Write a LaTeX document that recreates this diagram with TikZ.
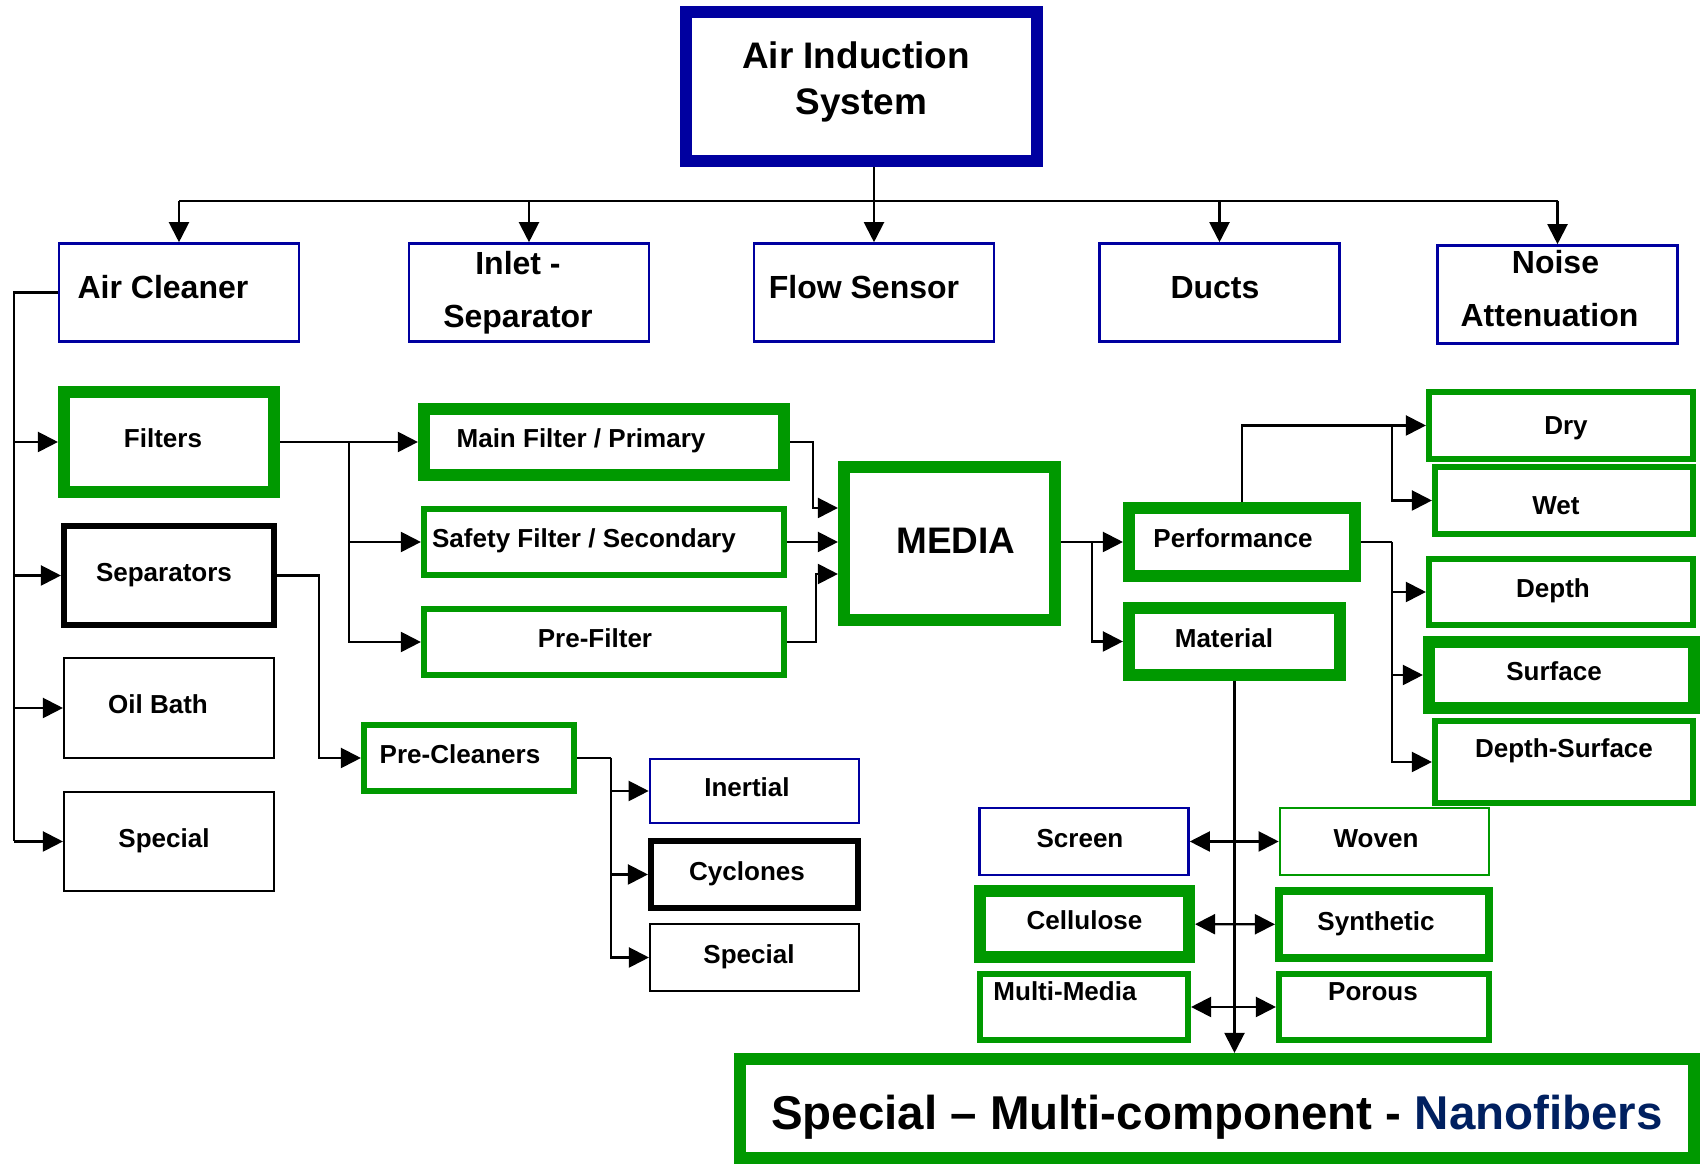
\documentclass[tikz,border=0pt]{standalone}
\usepackage{fontspec}
\setmainfont{Liberation Sans}
\usepackage{tikz}
\usetikzlibrary{arrows.meta,calc,positioning}
\definecolor{boxgreen}{RGB}{0,153,0}
\definecolor{boxblue}{RGB}{0,0,160}
\definecolor{navytext}{RGB}{0,32,96}
\tikzset{
  blk/.style={draw,rectangle,inner sep=0pt,font=\bfseries\fontsize{7.4}{9}\selectfont,
              text height=5.3pt,text depth=2pt},
  multi/.style={align=center,text height=,text depth=},
  gthick/.style={blk,draw=boxgreen,line width=0.12cm},
  gmed/.style={blk,draw=boxgreen,line width=0.06cm},
  gthin/.style={blk,draw=boxgreen,line width=0.025cm},
  kmed/.style={blk,draw=black,line width=0.06cm},
  kthin/.style={blk,draw=black,line width=0.02cm},
  bthin/.style={blk,draw=boxblue,line width=0.025cm},
  upper/.style={bthin,minimum width=2.40cm,minimum height=0.98cm,
                font=\bfseries\fontsize{9.1}{15}\selectfont,text height=6.5pt,text depth=2.8pt},
  link/.style={-{Triangle[length=0.2cm,width=0.2cm]}},
  dlink/.style={{Triangle[length=0.2cm,width=0.2cm]}-{Triangle[length=0.2cm,width=0.2cm]}}
}

\begin{document}
\begin{tikzpicture}[x=0.01cm,y=-0.01cm,line width=0.6pt]
  \useasboundingbox (0,0) rectangle (1702,1165);

  % top level
  \node[blk,multi,draw=boxblue,line width=0.12cm,minimum width=3.51cm,minimum height=1.49cm,
        font=\bfseries\fontsize{10.5}{13.1}\selectfont] (ais) at (861.5,86.5)
        {Air Induction\kern0.11cm\\System\\[-8.6pt]\mbox{}};
  \node[upper] (aircl) at (179,292.5)    {Air Cleaner\kern0.32cm};
  \node[upper,multi] (inlet) at (529,292.5) {Inlet -\kern0.22cm\\Separator\kern0.22cm};
  \node[upper] (flow)  at (874,292.5)    {Flow Sensor\kern0.20cm};
  \node[upper] (ducts) at (1219.5,292.5) {Ducts\kern0.09cm};
  \node[upper,multi] (noise) at (1557.5,294.5) {Noise\kern0.04cm\\Attenuation\kern0.16cm\\[-11.6pt]\mbox{}};

  % air cleaner parts
  \node[gthick,minimum width=2.10cm,minimum height=1.00cm] (filters) at (169,442)   {Filters\kern0.12cm};
  \node[kmed,minimum width=2.10cm,minimum height=0.99cm]   (seps)    at (169,575.5) {Separators\kern0.10cm};
  \node[kthin,minimum width=2.10cm,minimum height=1.00cm]  (oil)     at (169,708)   {Oil Bath\kern0.22cm};
  \node[kthin,minimum width=2.10cm,minimum height=0.99cm]  (spec1)   at (169,841.5) {Special\kern0.10cm};

  \node[gthick,minimum width=3.60cm,minimum height=0.66cm] (mainf)  at (604,442) {Main Filter / Primary\kern0.46cm};
  \node[gmed,minimum width=3.60cm,minimum height=0.66cm]   (safety) at (604,542) {Safety Filter / Secondary\kern0.40cm};
  \node[gmed,minimum width=3.60cm,minimum height=0.66cm]   (pref)   at (604,642) {Pre-Filter\kern0.18cm};
  \node[gmed,minimum width=2.10cm,minimum height=0.66cm]   (precl)  at (469,758) {Pre-Cleaners\kern0.18cm};
  \node[bthin,minimum width=2.09cm,minimum height=0.64cm]  (inert)  at (754.5,791)   {Inertial\kern0.15cm};
  \node[kmed,minimum width=2.07cm,minimum height=0.67cm]   (cyc)    at (754.5,874.5) {Cyclones\kern0.15cm};
  \node[kthin,minimum width=2.09cm,minimum height=0.67cm]  (spec2)  at (754.5,957.5) {Special\kern0.11cm};

  % media
  \node[gthick,minimum width=2.11cm,minimum height=1.53cm,font=\bfseries\fontsize{10.5}{13}\selectfont,
        text height=7.5pt,text depth=1.6pt] (media) at (949.5,543.5) {\kern0.13cm MEDIA};
  \node[gthick,minimum width=2.26cm,minimum height=0.68cm] (perf) at (1242,542)     {Performance\kern0.18cm};
  \node[gthick,minimum width=2.11cm,minimum height=0.67cm] (mat)  at (1234.5,641.5) {Material\kern0.21cm};

  \node[gmed,minimum width=2.64cm,minimum height=0.67cm,text height=5.3pt,text depth=0pt] (dry) at (1561,425.5) {\kern0.10cm Dry};
  \node[gmed,minimum width=2.58cm,minimum height=0.67cm,text height=7.7pt,text depth=0pt] (wet) at (1564,500.5) {Wet\kern0.16cm};
  \node[gmed,minimum width=2.64cm,minimum height=0.66cm]   (depth) at (1561,592)   {Depth\kern0.16cm};
  \node[gthick,minimum width=2.65cm,minimum height=0.66cm] (surf)  at (1561.5,675) {Surface\kern0.15cm};
  \node[gmed,multi,minimum width=2.58cm,minimum height=0.82cm] (dsurf) at (1564,762) {Depth-Surface\\[-1pt]\mbox{}};

  \node[bthin,minimum width=2.09cm,minimum height=0.67cm]  (screen) at (1084,841.5)   {Screen\kern0.08cm};
  \node[gthin,minimum width=2.09cm,minimum height=0.67cm]  (woven)  at (1384.5,841.5) {Woven\kern0.17cm};
  \node[gthick,minimum width=2.09cm,minimum height=0.66cm] (cell)   at (1084.5,924)   {Cellulose};
  \node[gmed,line width=0.08cm,minimum width=2.10cm,minimum height=0.67cm] (synth) at (1384,924.5) {Synthetic\kern0.16cm};
  \node[gmed,multi,minimum width=2.08cm,minimum height=0.66cm] (mmedia) at (1084,1007) {Multi-Media\kern0.38cm\\\mbox{}};
  \node[gmed,multi,minimum width=2.10cm,minimum height=0.66cm] (porous) at (1384,1007) {Porous\kern0.22cm\\\mbox{}};

  \node[gthick,minimum width=9.54cm,minimum height=0.99cm,font=\bfseries\fontsize{13.5}{16}\selectfont,
        text height=11.7pt,text depth=0pt] (big) at (1217,1108.5)
        {Special – Multi-component - \textcolor{navytext}{Nanofibers}};

  % top bus
  \coordinate (bus) at (874,201);
  \draw[link] (flow.north |- ais.south) -- (flow.north);
  \draw (bus -| aircl.north) -- (bus -| noise.north);
  \foreach \n in {aircl,inlet,ducts,noise}
    \draw[link] (bus -| \n.north) -- (\n.north);

  % left trunk
  \coordinate (trunk) at (14,292.5);
  \draw (aircl.west) -- (trunk) -- (trunk |- spec1.west);
  \foreach \n in {filters,seps,oil,spec1}
    \draw[link] (trunk |- \n.west) -- (\n.west);

  % filters
  \coordinate (fsplit) at (349,442);
  \draw[link] (filters.east) -- (mainf.west);
  \draw[link] (fsplit) |- (safety.west);
  \draw[link] (fsplit) |- (pref.west);

  % separators
  \draw[link] (seps.east) -- ++(42,0) |- (precl.west);
  \draw (precl.east) -- ++(34,0) coordinate (psplit);
  \foreach \n in {inert,cyc,spec2}
    \draw[link] (psplit) |- (\n.west);

  % into media
  \draw[link] (mainf.east) -- ++(23,0) |- ([yshift=3.55mm]media.west);
  \draw[link] (safety.east) -- (safety.east -| media.west);
  \draw[link] (pref.east) -- ++(29,0) |- ([yshift=-3.05mm]media.west);

  % out of media
  \draw[link] (perf.west -| media.east) -- (perf.west);
  \draw[link] (perf.west -| media.east) ++(31,0) |- (mat.west);

  \draw[link] (perf.north) |- (dry.west);
  \draw (perf.east) -- ++(31,0) coordinate (rsplit);
  \draw[link] (rsplit |- dry.west) |- (wet.west);
  \foreach \n in {depth,surf,dsurf}
    \draw[link] (rsplit) |- (\n.west);

  % material
  \draw[link] (mat.south) -- (mat.south |- big.north);
  \draw[dlink] (screen) -- (woven);
  \draw[dlink] (cell) -- (synth);
  \draw[dlink] (mmedia) -- (porous);
\end{tikzpicture}
\end{document}
